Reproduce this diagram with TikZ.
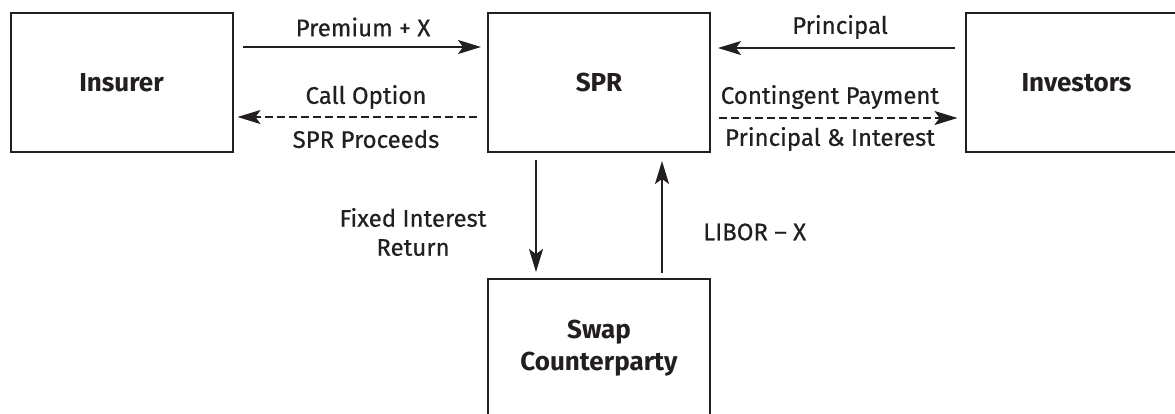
\documentclass[tikz,border=0pt]{standalone}
\usepackage{fontspec}
\setmainfont{Fira Sans}
\newfontfamily\lblfont{Fira Sans}[FakeBold=0.5]
\usetikzlibrary{arrows.meta}
\definecolor{ink}{HTML}{231F20}
\tikzset{
  x=1pt,y=-1pt,
  entity/.style={draw=ink,line width=2pt,minimum width=222pt,minimum height=139pt,
    inner sep=0pt,align=center,font=\fontsize{26}{32}\selectfont\bfseries,text=ink},
  lbl/.style={font=\lblfont\fontsize{24}{29}\selectfont,text=ink,inner sep=0pt,align=center},
  arr/.style={draw=ink,line width=1.8pt,-{Stealth[length=23pt,width=14pt,inset=5pt]}},
  darr/.style={arr,dash pattern=on 8pt off 4pt}
}
\begin{document}
\begin{tikzpicture}
\useasboundingbox (0,0) rectangle (1175,413);
\clip (0,0) rectangle (1175,413);
\node[entity] (ins) at (121.5,82.5) {Insurer};
\node[entity] (spr) at (599,82.5) {SPR};
\node[entity] (inv) at (1076.5,82.5) {Investors};
\node[entity] (swp) at (599,348.5) {Swap\\Counterparty};
% horizontal flows
\draw[arr] ([xshift=9pt,yshift=35.5pt]ins.east) -- ([xshift=-6pt,yshift=35.5pt]spr.west);
\draw[darr] ([xshift=-10pt,yshift=-34.5pt]spr.west) -- ([xshift=4pt,yshift=-34.5pt]ins.east);
\draw[arr] ([xshift=-10pt,yshift=34.5pt]inv.west) -- ([xshift=7pt,yshift=34.5pt]spr.east);
\draw[darr] ([xshift=8pt,yshift=-35.5pt]spr.east) -- ([xshift=-7pt,yshift=-35.5pt]inv.west);
% vertical flows
\draw[arr] ([xshift=-63pt,yshift=-7pt]spr.south) -- ([xshift=-63pt,yshift=6pt]swp.north);
\draw[arr] ([xshift=63pt,yshift=5pt]swp.north) -- ([xshift=63pt,yshift=-8pt]spr.south);
% labels
\node[lbl] (l1) at (363,27) {Premium + X};
\node[lbl] (l2) at (366,97) {Call Option};
\node[lbl] (l3) at (366,139) {SPR Proceeds};
\node[lbl] (l4) at (840,27) {Principal};
\node[lbl] (l5) at (830,97) {Contingent Payment};
\node[lbl] (l6) at (830,139) {Principal \& Interest};
\node[lbl] (l7) at (413,232) {Fixed Interest\\Return};
\node[lbl,anchor=west] (l8) at (703,232) {LIBOR – X};
\end{tikzpicture}
\end{document}
